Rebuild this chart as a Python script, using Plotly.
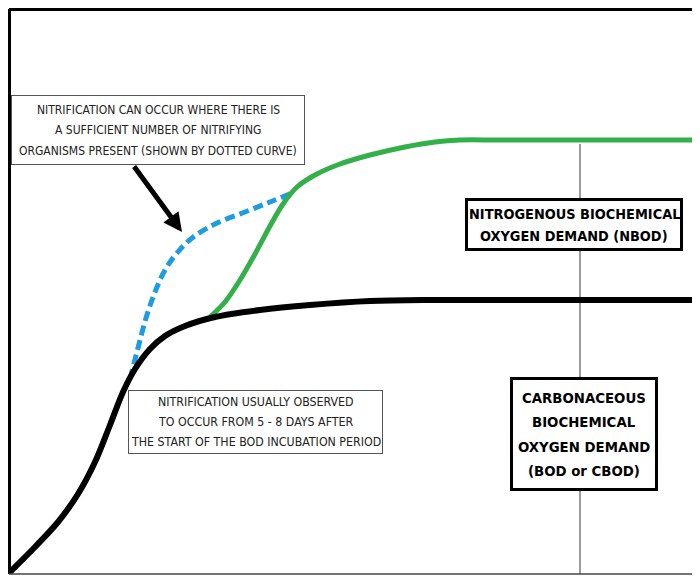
import plotly.graph_objects as go

# ---- data (x: days of incubation, y: oxygen demand, arbitrary units) ----
cbod_days = [0.0, 1.08, 2.0, 2.8, 3.48, 4.08, 4.6, 5.08, 5.68, 6.28, 7.08, 8.28, 10.08, 12.08, 14.48,
             16.88, 19.5, 22.0, 24.5, 27.68]
cbod_vals = [0.0, 2.7, 5.2, 8.0, 11.2, 14.9, 18.2, 20.5, 22.5, 23.8, 24.8, 25.7, 26.4, 26.9, 27.3,
             27.4, 27.4, 27.4, 27.4, 27.4]

early_nitr_days = [4.88, 5.2, 5.52, 5.88, 6.28, 6.76, 7.36, 8.28, 9.48, 10.48, 11.36]
early_nitr_vals = [19.5, 22.6, 25.6, 28.2, 30.4, 32.1, 33.6, 35.0, 36.2, 37.2, 38.1]

nbod_days = [8.08, 8.68, 9.28, 9.88, 10.48, 11.0, 11.56, 12.28, 13.28, 14.48, 15.88, 17.08, 18.08,
             19.5, 21.0, 23.0, 25.3, 27.68]
nbod_vals = [25.7, 27.2, 29.4, 32.0, 34.8, 37.0, 38.7, 39.9, 41.0, 41.9, 42.7, 43.2, 43.4,
             43.4, 43.4, 43.4, 43.4, 43.4]

divider_day = 22.88
divider_vals = [0.0, 43.0]

x_range = [0.04, 27.68]
y_range = [0, 56.5]

cond = "DejaVu Sans Condensed, Liberation Sans, sans-serif"

fig = go.Figure()

fig.add_trace(go.Scatter(x=[divider_day, divider_day], y=divider_vals, mode="lines",
                         line=dict(color="#7a7a7a", width=1.5), hoverinfo="skip"))
fig.add_trace(go.Scatter(x=early_nitr_days, y=early_nitr_vals, mode="lines",
                         line=dict(color="#1E9CE0", width=5, dash="10px,5px", shape="spline", smoothing=1.0)))
fig.add_trace(go.Scatter(x=nbod_days, y=nbod_vals, mode="lines",
                         line=dict(color="#33B04A", width=5, shape="spline", smoothing=0.9)))
fig.add_trace(go.Scatter(x=cbod_days, y=cbod_vals, mode="lines",
                         line=dict(color="black", width=6, shape="spline", smoothing=0.9)))


def add_box(lines, cx, cy, w, h, size, spacing, bw, bcolor, fcolor, bold=False):
    fig.add_annotation(x=cx, y=cy, xref="x", yref="y", text=" ", showarrow=False,
                       width=w - 2 * bw, height=h - 2 * bw, borderwidth=bw, borderpad=0,
                       bordercolor=bcolor, bgcolor="white", xanchor="center", yanchor="middle")
    n = len(lines)
    for i, t in enumerate(lines):
        txt = "<b>%s</b>" % t if bold else t
        fig.add_annotation(x=cx, y=cy, xref="x", yref="y", text=txt, showarrow=False,
                           xanchor="center", yanchor="middle",
                           yshift=-(i - (n - 1) / 2) * spacing,
                           font=dict(family=cond, size=size, color=fcolor))


# arrow
fig.add_annotation(x=6.96, y=34.2, ax=5.0, ay=40.9, xref="x", yref="y", axref="x", ayref="y",
                   text="", showarrow=True, arrowhead=2, arrowsize=0.75, arrowwidth=5,
                   arrowcolor="black", standoff=0)

add_box(["NITRIFICATION CAN OCCUR WHERE THERE IS",
         "A SUFFICIENT NUMBER OF NITRIFYING",
         "ORGANISMS PRESENT (SHOWN BY DOTTED CURVE)"],
        6.0, 44.4, 294, 70, 12, 20.5, 1, "#555555", "#222222")
add_box(["NITRIFICATION USUALLY OBSERVED",
         "TO OCCUR FROM 5 - 8 DAYS AFTER",
         "THE START OF THE BOD INCUBATION PERIOD"],
        9.9, 15.2, 255, 64, 12.3, 20, 1, "#555555", "#222222")
add_box(["NITROGENOUS BIOCHEMICAL", "OXYGEN DEMAND (NBOD)"],
        22.64, 34.95, 218, 53, 14.4, 22, 3, "black", "black", bold=True)
add_box(["CARBONACEOUS", "BIOCHEMICAL", "OXYGEN DEMAND", "(BOD or CBOD)"],
        23.04, 14.0, 148, 114, 14.8, 24.3, 3, "black", "black", bold=True)

# frame
fig.add_shape(type="line", xref="paper", yref="paper", x0=0, x1=0, y0=0, y1=1,
              line=dict(color="black", width=4))
fig.add_shape(type="line", xref="paper", yref="paper", x0=0, x1=1, y0=1, y1=1,
              line=dict(color="black", width=4))
fig.add_shape(type="line", xref="paper", yref="paper", x0=0, x1=1, y0=0, y1=0,
              line=dict(color="#444444", width=1.5))

fig.update_layout(width=692, height=568, showlegend=False,
                  margin=dict(l=1, r=0, t=1, b=2),
                  paper_bgcolor="white", plot_bgcolor="white",
                  xaxis=dict(range=x_range, visible=False, fixedrange=True),
                  yaxis=dict(range=y_range, visible=False, fixedrange=True))

fig.write_html("out.html")
